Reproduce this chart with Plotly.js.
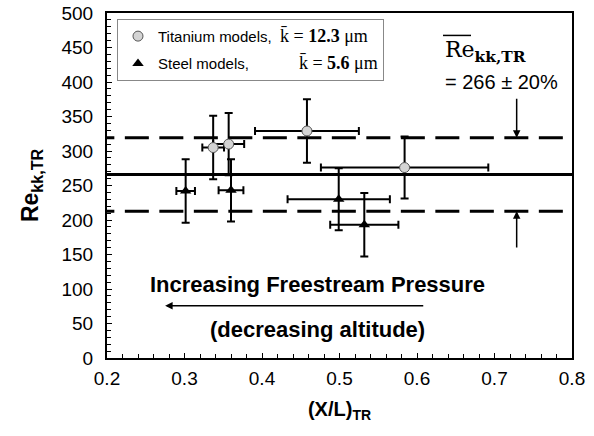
<!DOCTYPE html>
<html>
<head>
<meta charset="utf-8">
<script src="https://cdn.plot.ly/plotly-3.0.1.min.js"></script>
<style>html,body{margin:0;padding:0;background:#fff;}#chart{width:594px;height:436px;}</style>
</head>
<body>
<div id="chart"></div>
<script>
// Titanium models
var tiX = [0.337, 0.357, 0.458, 0.584];
var tiY = [305, 310, 329, 276];
var tiXErr = [0.014, 0.020, 0.067, 0.108];
var tiYErr = [46, 45, 46, 45];
// Steel models
var stX = [0.3015, 0.360, 0.499, 0.532];
var stY = [242, 243, 230, 193];
var stXErr = [0.012, 0.016, 0.066, 0.044];
var stYErr = [46, 45, 45, 46];
// Mean and band
var meanRe = 266;
var bandFrac = 0.20;
var xTicks = [0.2, 0.3, 0.4, 0.5, 0.6, 0.7, 0.8];
var yTicks = [0, 50, 100, 150, 200, 250, 300, 350, 400, 450, 500];

var SANS = 'Arial, "Liberation Sans", sans-serif';
var SERIF = '"DejaVu Serif", serif';
var NB = '\u00A0';
function nbs(n) { var s = ''; for (var i = 0; i < n; i++) s += NB; return s; }
var serifSpan = function (t) { return '<span style="font-family:\'Liberation Serif\', serif;font-size:18px">' + t + '</span>'; };

var errStyle = {type: 'data', visible: true, color: '#000', thickness: 2, width: 4};

var traces = [
  {
    x: tiX, y: tiY, type: 'scatter', mode: 'markers',
    name: 'Titanium models,' + NB + ' ' + serifSpan('k\u0304 = <b>12.3</b> μm'),
    legendgroup: 'a',
    marker: {symbol: 'circle', size: 10, color: '#d4d4d4', line: {color: '#555', width: 1}},
    error_x: Object.assign({array: tiXErr}, errStyle),
    error_y: Object.assign({array: tiYErr}, errStyle)
  },
  {
    x: stX, y: stY, type: 'scatter', mode: 'markers',
    name: 'Steel models,' + nbs(11) + ' ' + serifSpan('k\u0304 = <b>5.6</b> μm'),
    legendgroup: 'b',
    marker: {symbol: 'triangle-up', size: 10, color: '#000', line: {color: '#000', width: 0}},
    error_x: Object.assign({array: stXErr}, errStyle),
    error_y: Object.assign({array: stYErr}, errStyle)
  }
];

var hi = meanRe * (1 + bandFrac), lo = meanRe * (1 - bandFrac);

var shapes = [
  {type: 'line', xref: 'x', yref: 'y', x0: 0.2, x1: 0.8, y0: meanRe, y1: meanRe, line: {color: '#000', width: 3}, layer: 'below'},
  {type: 'line', xref: 'x', yref: 'y', x0: 0.1785, x1: 0.8, y0: hi, y1: hi, line: {color: '#000', width: 3, dash: '24px,10.5px'}, layer: 'below'},
  {type: 'line', xref: 'x', yref: 'y', x0: 0.1785, x1: 0.8, y0: lo, y1: lo, line: {color: '#000', width: 3, dash: '24px,10.5px'}, layer: 'below'},
  // overline for mean label
  {type: 'line', xref: 'paper', yref: 'paper', x0: 0.7226, x1: 0.7828, y0: 0.935, y1: 0.935, line: {color: '#000', width: 1.5}}
];

var arrowX = 0.7286;
var annotations = [
  {x: arrowX, y: hi, ax: arrowX, ay: 378, xref: 'x', yref: 'y', axref: 'x', ayref: 'y', text: '', showarrow: true, arrowhead: 2, arrowsize: 1, arrowwidth: 1.5, arrowcolor: '#000'},
  {x: arrowX, y: lo, ax: arrowX, ay: 158, xref: 'x', yref: 'y', axref: 'x', ayref: 'y', text: '', showarrow: true, arrowhead: 2, arrowsize: 1, arrowwidth: 1.5, arrowcolor: '#000'},
  {x: 0.275, y: 75.8, ax: 0.61, ay: 75.8, xref: 'x', yref: 'y', axref: 'x', ayref: 'y', text: '', showarrow: true, arrowhead: 2, arrowsize: 1, arrowwidth: 1.5, arrowcolor: '#000'},
  {x: 0.472, y: 107, xref: 'x', yref: 'y', text: '<b>Increasing Freestream Pressure</b>', showarrow: false, font: {family: SANS, size: 22, color: '#000'}},
  {x: 0.471, y: 40.6, xref: 'x', yref: 'y', text: '<b>(decreasing altitude)</b>', showarrow: false, font: {family: SANS, size: 22, color: '#000'}},
  {x: 0.7226, y: 0.935, xref: 'paper', yref: 'paper', xanchor: 'left', yanchor: 'top', text: 'Re<sub><b>kk,TR</b></sub>', showarrow: false, font: {family: SERIF, size: 22, color: '#000'}},
  {x: 0.7226, y: 0.838, xref: 'paper', yref: 'paper', xanchor: 'left', yanchor: 'top', text: '= 266 ± 20%', showarrow: false, font: {family: SANS, size: 20, color: '#000'}}
];

var layout = {
  width: 594, height: 436,
  margin: {l: 107, r: 22, t: 13, b: 78},
  paper_bgcolor: '#fff', plot_bgcolor: '#fff',
  font: {family: SANS, color: '#000'},
  showlegend: true,
  legend: {
    x: 0.0215, y: 0.983, xanchor: 'left', yanchor: 'top',
    bgcolor: '#fff', bordercolor: '#888', borderwidth: 1,
    font: {family: SANS, size: 15, color: '#000'},
    traceorder: 'grouped', tracegroupgap: 5
  },
  xaxis: {
    range: [0.2, 0.8], tickvals: xTicks, ticktext: xTicks.map(function (v) { return v.toFixed(1); }),
    ticks: 'inside', ticklen: 5, tickwidth: 1, tickcolor: '#000',
    minor: {dtick: 0.02, ticks: 'inside', ticklen: 4, tickwidth: 1, tickcolor: '#000', showgrid: false},
    showline: true, linewidth: 2, linecolor: '#000', mirror: true,
    showgrid: false, zeroline: false, ticklabelstandoff: 2,
    tickfont: {family: SANS, size: 19, color: '#000'},
    title: {text: '<b>(X/L)<sub>TR</sub></b>', font: {family: SANS, size: 20, color: '#000'}, standoff: 14}
  },
  yaxis: {
    range: [0, 500], tickvals: yTicks,
    ticks: 'inside', ticklen: 5, tickwidth: 1, tickcolor: '#000',
    minor: {dtick: 10, ticks: 'inside', ticklen: 4, tickwidth: 1, tickcolor: '#000', showgrid: false},
    showline: true, linewidth: 2, linecolor: '#000', mirror: true,
    showgrid: false, zeroline: false, ticklabelstandoff: 8,
    tickfont: {family: SANS, size: 19, color: '#000'},
    title: {text: '<b>Re<sub>kk,TR</sub></b>', font: {family: SANS, size: 23, color: '#000'}, standoff: 16}
  },
  shapes: shapes,
  annotations: annotations
};

Plotly.newPlot('chart', traces, layout, {displayModeBar: false, staticPlot: true});
</script>
</body>
</html>
